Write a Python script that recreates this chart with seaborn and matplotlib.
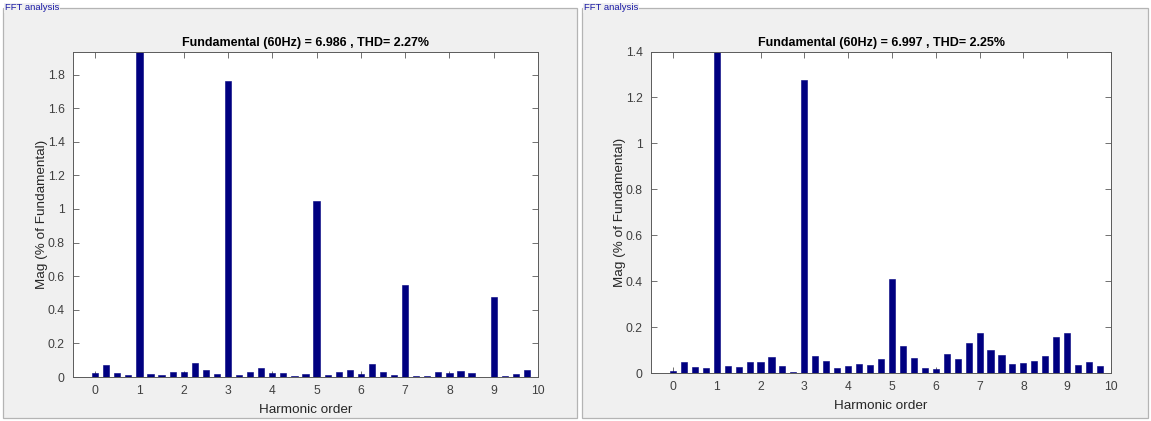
import numpy as np
import pandas as pd
import seaborn as sns
import matplotlib
matplotlib.use("Agg")
import matplotlib.pyplot as plt
from matplotlib.patches import Rectangle

# Harmonic order axis: 15 Hz resolution -> quarter-harmonic steps from 0 to 9.75
harmonic_order = [i / 4 for i in range(40)]

# Spectrum magnitudes (% of fundamental), case A
mag_a = [0.024, 0.073, 0.026, 0.012, 100.0, 0.018, 0.010, 0.032,
         0.030, 0.081, 0.044, 0.020, 1.760, 0.010, 0.028, 0.051,
         0.024, 0.024, 0.004, 0.016, 1.048, 0.009, 0.029, 0.044,
         0.020, 0.079, 0.032, 0.014, 0.548, 0.006, 0.008, 0.030,
         0.022, 0.034, 0.022, 0.002, 0.479, 0.008, 0.016, 0.042]

# Spectrum magnitudes (% of fundamental), case B
mag_b = [0.010, 0.048, 0.025, 0.022, 100.0, 0.029, 0.025, 0.049,
         0.049, 0.070, 0.030, 0.006, 1.277, 0.076, 0.052, 0.023,
         0.030, 0.038, 0.035, 0.060, 0.408, 0.116, 0.065, 0.023,
         0.019, 0.083, 0.062, 0.131, 0.173, 0.099, 0.077, 0.039,
         0.045, 0.054, 0.073, 0.155, 0.173, 0.035, 0.046, 0.030]

titles = ["Fundamental (60Hz) = 6.986 , THD= 2.27%",
          "Fundamental (60Hz) = 6.997 , THD= 2.25%"]
y_tops = [1.936, 1.4]
y_ticks = [[0, 0.2, 0.4, 0.6, 0.8, 1.0, 1.2, 1.4, 1.6, 1.8],
           [0, 0.2, 0.4, 0.6, 0.8, 1.0, 1.2, 1.4]]
x_ticks = list(range(11))
panel_label = "FFT analysis"

plt.rcParams["font.family"] = ["Liberation Sans", "DejaVu Sans"]

W, H = 1151, 421
fig = plt.figure(figsize=(W / 100, H / 100), dpi=100, facecolor="white")

BAR = "#000080"
PANEL_BG = "#f0f0f0"
TICK_GRAY = "#404040"

def fx(px):
    return px / W

def fy(py):
    return 1 - py / H

# uipanel-style frames
panels = [(3, 8, 577, 418), (582, 8, 1148, 418)]
for (x0, y0, x1, y1) in panels:
    fig.patches.append(Rectangle((fx(x0), fy(y1)), fx(x1 - x0), (y1 - y0) / H,
                                 transform=fig.transFigure, facecolor=PANEL_BG,
                                 edgecolor="#b4b4b4", linewidth=0.9, zorder=-10))
    fig.text(fx(x0 + 2), fy(y0), panel_label, fontsize=6.8, color="#1a1aa6",
             ha="left", va="center",
             bbox=dict(facecolor=PANEL_BG, edgecolor="none", pad=0.6), zorder=2)

# axes boxes in pixel coordinates: left, top, right, bottom
boxes = [(73, 51.7, 538, 377), (651, 51.5, 1111, 373)]
datasets = [mag_a, mag_b]

for i, (bx, data) in enumerate(zip(boxes, datasets)):
    l, t, r, b = bx
    ax = fig.add_axes([fx(l), fy(b), fx(r - l), (b - t) / H])
    df = pd.DataFrame({"order": harmonic_order, "mag": data})
    sns.barplot(data=df, x="order", y="mag", native_scale=True, width=0.56,
                color=BAR, saturation=1, errorbar=None, ax=ax,
                edgecolor=BAR, linewidth=0.4)
    ax.set_facecolor("white")
    ax.set_axisbelow(True)
    ax.set_xlim(-0.5, 10)
    ax.set_ylim(0, y_tops[i])
    ax.set_xticks(x_ticks)
    ax.set_xticklabels([str(v) for v in x_ticks])
    ax.set_yticks(y_ticks[i])
    ax.set_yticklabels([f"{v:g}" for v in y_ticks[i]])
    ax.tick_params(direction="in", length=4, width=0.6, colors="#5a5a5a",
                   labelcolor=TICK_GRAY, labelsize=8.7, top=True, right=True,
                   pad=6)
    for sp in ax.spines.values():
        sp.set_color("#5a5a5a")
        sp.set_linewidth(0.7)
    ax.set_xlabel("Harmonic order", fontsize=9.7, color="#262626", labelpad=5)
    ax.set_ylabel("Mag (% of Fundamental)", fontsize=9.7, color="#262626",
                  labelpad=0)
    ax.set_title(titles[i], fontsize=9, fontweight="bold", color="black",
                 pad=4)

fig.savefig("out.png", dpi=100, facecolor=fig.get_facecolor())
